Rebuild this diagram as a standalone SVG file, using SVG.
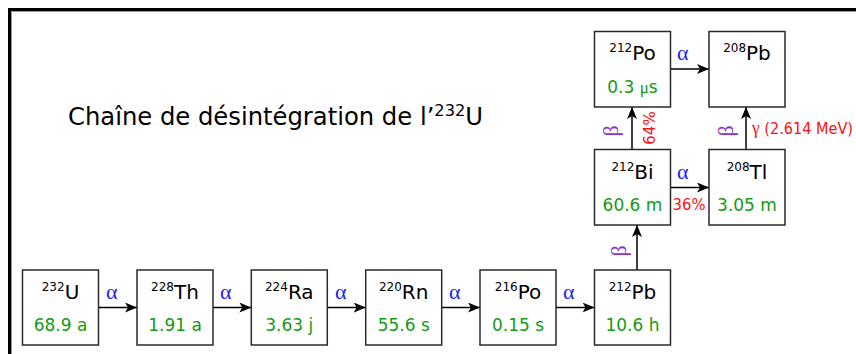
<svg xmlns="http://www.w3.org/2000/svg" width="856" height="354" viewBox="0 0 856 354">
<defs>
<style>
.box{fill:#fff;stroke:#2a2a2a;stroke-width:1.5}
.sym{font-family:"DejaVu Sans",sans-serif;font-size:20px;fill:#000;text-anchor:middle}
.sup{font-size:12px}
.hl{font-family:"DejaVu Sans",sans-serif;font-size:17px;fill:#149a14;text-anchor:middle}
.al{font-family:"Liberation Serif",serif;font-size:22px;fill:#1a1aff}
.be{font-family:"Liberation Serif",serif;font-size:22px;fill:#9030c8}
.red{font-family:"DejaVu Sans",sans-serif;font-size:15px;fill:#ff1010}
.con{stroke:#000;stroke-width:1.5;fill:none;marker-end:url(#ah)}
</style>
<marker id="ah" viewBox="0 0 12 10" refX="12" refY="5" markerWidth="12" markerHeight="10" markerUnits="userSpaceOnUse" orient="auto">
<path d="M0,0 L12,5 L0,10 L3,5 Z" fill="#000"/>
</marker>
</defs>
<rect width="856" height="354" fill="#fff"/>
<path d="M9.5,354 V9.5 H856" fill="none" stroke="#000" stroke-width="3"/>
<path d="M11.5,354 V11.5 H856" fill="none" stroke="#999" stroke-width="1"/>

<text x="68" y="124.5" font-family="DejaVu Sans, sans-serif" font-size="24" fill="#000" textLength="415" lengthAdjust="spacingAndGlyphs">Chaîne de désintégration de l’<tspan font-size="16" dy="-9">232</tspan><tspan dy="9">U</tspan></text>

<g id="connectors">
<path class="con" d="M98.5,307.5 H137"/>
<path class="con" d="M213,307.5 H251.3"/>
<path class="con" d="M327.3,307.5 H365.7"/>
<path class="con" d="M441.7,307.5 H480"/>
<path class="con" d="M556,307.5 H594.5"/>
<path class="con" d="M637,270 V225"/>
<path class="con" d="M670.5,187.5 H709"/>
<path class="con" d="M632,149.5 V107"/>
<path class="con" d="M746,149.5 V107"/>
<path class="con" d="M670.5,69 H709"/>
<text class="al" x="106" y="299">α</text>
<text class="al" x="220" y="299">α</text>
<text class="al" x="335" y="299">α</text>
<text class="al" x="449" y="299">α</text>
<text class="al" x="563" y="299">α</text>
<text class="al" x="677" y="179">α</text>
<text class="al" x="677" y="60">α</text>
<text class="be" transform="translate(626,251) rotate(-90)" text-anchor="middle">β</text>
<text class="be" transform="translate(618,131) rotate(-90)" text-anchor="middle">β</text>
<text class="be" transform="translate(733,131) rotate(-90)" text-anchor="middle">β</text>
<text class="red" transform="translate(655,128) rotate(-90)" text-anchor="middle">64%</text>
<text class="red" x="672.5" y="210" textLength="33" lengthAdjust="spacingAndGlyphs">36%</text>
<text class="red" x="752" y="134" textLength="101" lengthAdjust="spacingAndGlyphs"><tspan font-family="Liberation Serif, serif" font-size="18">γ</tspan> (2.614 MeV)</text>
</g>

<g id="U232"><rect class="box" x="22.5" y="270" width="76" height="75"/><text class="sym" x="60.5" y="299"><tspan class="sup" dy="-8">232</tspan><tspan dy="8">U</tspan></text><text class="hl" x="60.5" y="330.5">68.9 a</text></g>
<g id="Th228"><rect class="box" x="137" y="270" width="76" height="75"/><text class="sym" x="175" y="299"><tspan class="sup" dy="-8">228</tspan><tspan dy="8">Th</tspan></text><text class="hl" x="175" y="330.5">1.91 a</text></g>
<g id="Ra224"><rect class="box" x="251.3" y="270" width="76" height="75"/><text class="sym" x="289.3" y="299"><tspan class="sup" dy="-8">224</tspan><tspan dy="8">Ra</tspan></text><text class="hl" x="289.3" y="330.5">3.63 j</text></g>
<g id="Rn220"><rect class="box" x="365.7" y="270" width="76" height="75"/><text class="sym" x="403.7" y="299"><tspan class="sup" dy="-8">220</tspan><tspan dy="8">Rn</tspan></text><text class="hl" x="403.7" y="330.5">55.6 s</text></g>
<g id="Po216"><rect class="box" x="480" y="270" width="76" height="75"/><text class="sym" x="518" y="299"><tspan class="sup" dy="-8">216</tspan><tspan dy="8">Po</tspan></text><text class="hl" x="518" y="330.5">0.15 s</text></g>
<g id="Pb212"><rect class="box" x="594.5" y="270" width="76" height="75"/><text class="sym" x="632.5" y="299"><tspan class="sup" dy="-8">212</tspan><tspan dy="8">Pb</tspan></text><text class="hl" x="632.5" y="330.5">10.6 h</text></g>
<g id="Bi212"><rect class="box" x="594.5" y="149.5" width="76" height="75.5"/><text class="sym" x="632.5" y="178.5"><tspan class="sup" dy="-8">212</tspan><tspan dy="8">Bi</tspan></text><text class="hl" x="632.5" y="211">60.6 m</text></g>
<g id="Tl208"><rect class="box" x="709" y="149.5" width="76" height="75.5"/><text class="sym" x="747" y="178.5"><tspan class="sup" dy="-8">208</tspan><tspan dy="8">Tl</tspan></text><text class="hl" x="747" y="211">3.05 m</text></g>
<g id="Po212"><rect class="box" x="594.5" y="31.5" width="76" height="75.5"/><text class="sym" x="632.5" y="60"><tspan class="sup" dy="-8">212</tspan><tspan dy="8">Po</tspan></text><text class="hl" x="632.5" y="92.5">0.3 <tspan font-family="Liberation Serif, serif">μ</tspan>s</text></g>
<g id="Pb208"><rect class="box" x="709" y="31.5" width="76" height="75.5"/><text class="sym" x="747" y="60"><tspan class="sup" dy="-8">208</tspan><tspan dy="8">Pb</tspan></text></g>
</svg>
